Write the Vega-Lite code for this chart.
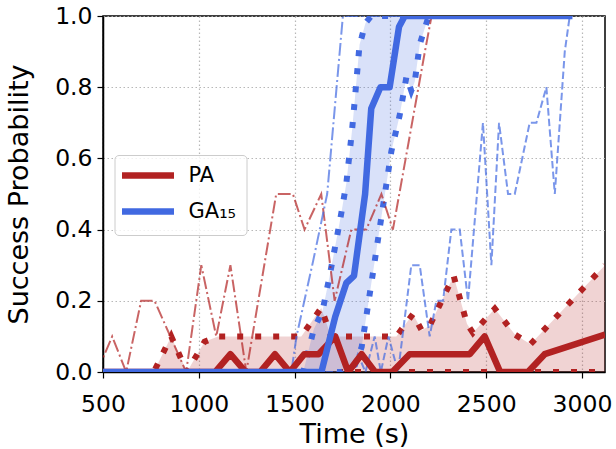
{
  "$schema": "https://vega.github.io/schema/vega-lite/v6.json",
  "width": 502,
  "height": 356,
  "autosize": {"type": "none"},
  "padding": {"left": 103, "top": 16, "right": 11, "bottom": 77},
  "background": "white",
  "config": {
    "font": "DejaVu Sans",
    "view": {"stroke": "black", "strokeWidth": 1.5},
    "axis": {
      "labelFont": "DejaVu Sans",
      "titleFont": "DejaVu Sans",
      "labelFontSize": 23.5,
      "titleFontSize": 27,
      "titleFontWeight": "normal",
      "labelColor": "black",
      "titleColor": "black",
      "tickColor": "black",
      "tickSize": 6,
      "tickWidth": 1.2,
      "domainColor": "black",
      "domainWidth": 1.5,
      "labelPadding": 5,
      "labelFlush": false,
      "grid": true,
      "gridColor": "#b0b0b0",
      "gridDash": [1.5, 2.5],
      "gridWidth": 1.2,
      "gridOpacity": 0.9
    }
  },
  "datasets": {
    "pa_mean": [
      {"series": "PA", "t": 500, "p": 0},
      {"series": "PA", "t": 1085, "p": 0},
      {"series": "PA", "t": 1165, "p": 0.05},
      {"series": "PA", "t": 1245, "p": 0},
      {"series": "PA", "t": 1320, "p": 0},
      {"series": "PA", "t": 1398, "p": 0.05},
      {"series": "PA", "t": 1475, "p": 0},
      {"series": "PA", "t": 1550, "p": 0.05},
      {"series": "PA", "t": 1625, "p": 0.05},
      {"series": "PA", "t": 1712, "p": 0.1},
      {"series": "PA", "t": 1780, "p": 0},
      {"series": "PA", "t": 1850, "p": 0.05},
      {"series": "PA", "t": 1920, "p": 0},
      {"series": "PA", "t": 2010, "p": 0},
      {"series": "PA", "t": 2100, "p": 0.05},
      {"series": "PA", "t": 2414, "p": 0.05},
      {"series": "PA", "t": 2492, "p": 0.1},
      {"series": "PA", "t": 2573, "p": 0},
      {"series": "PA", "t": 2718, "p": 0},
      {"series": "PA", "t": 2805, "p": 0.05},
      {"series": "PA", "t": 3120, "p": 0.105}
    ],
    "pa_band": [
      {"t": 500, "lo": 0, "hi": 0},
      {"t": 765, "lo": 0, "hi": 0},
      {"t": 856, "lo": 0, "hi": 0.1},
      {"t": 938, "lo": 0, "hi": 0},
      {"t": 1030, "lo": 0, "hi": 0.085},
      {"t": 1100, "lo": 0, "hi": 0.1},
      {"t": 1535, "lo": 0, "hi": 0.1},
      {"t": 1639, "lo": 0, "hi": 0.18},
      {"t": 1690, "lo": 0, "hi": 0.1},
      {"t": 2031, "lo": 0, "hi": 0.1},
      {"t": 2118, "lo": 0, "hi": 0.163},
      {"t": 2163, "lo": 0, "hi": 0.117},
      {"t": 2205, "lo": 0, "hi": 0.13},
      {"t": 2330, "lo": 0, "hi": 0.27},
      {"t": 2400, "lo": 0, "hi": 0.135},
      {"t": 2431, "lo": 0, "hi": 0.11},
      {"t": 2545, "lo": 0, "hi": 0.178},
      {"t": 2650, "lo": 0, "hi": 0.105},
      {"t": 2731, "lo": 0, "hi": 0.078},
      {"t": 3120, "lo": 0, "hi": 0.3}
    ],
    "pa_best": [
      {"t": 468, "p": 0},
      {"t": 548, "p": 0.1},
      {"t": 621, "p": 0},
      {"t": 699, "p": 0.2},
      {"t": 769, "p": 0.2},
      {"t": 934, "p": 0},
      {"t": 1013, "p": 0.3},
      {"t": 1091, "p": 0.1},
      {"t": 1165, "p": 0.3},
      {"t": 1248, "p": 0},
      {"t": 1404, "p": 0.5},
      {"t": 1491, "p": 0.5},
      {"t": 1552, "p": 0.4},
      {"t": 1639, "p": 0.5},
      {"t": 1709, "p": 0.2},
      {"t": 1796, "p": 0.4},
      {"t": 1874, "p": 0.4},
      {"t": 1953, "p": 0.5},
      {"t": 2013, "p": 0.4},
      {"t": 2180, "p": 0.9},
      {"t": 2215, "p": 1.0}
    ],
    "ga_mean": [
      {"series": "GA₁₅", "t": 500, "p": 0},
      {"series": "GA₁₅", "t": 1640, "p": 0},
      {"series": "GA₁₅", "t": 1712, "p": 0.155},
      {"series": "GA₁₅", "t": 1770, "p": 0.25},
      {"series": "GA₁₅", "t": 1810, "p": 0.27},
      {"series": "GA₁₅", "t": 1868, "p": 0.5},
      {"series": "GA₁₅", "t": 1900, "p": 0.74},
      {"series": "GA₁₅", "t": 1948, "p": 0.8},
      {"series": "GA₁₅", "t": 1996, "p": 0.8},
      {"series": "GA₁₅", "t": 2025, "p": 0.9},
      {"series": "GA₁₅", "t": 2045, "p": 0.97},
      {"series": "GA₁₅", "t": 2075, "p": 1.0},
      {"series": "GA₁₅", "t": 2950, "p": 1.0}
    ],
    "ga_band": [
      {"t": 500, "lo": 0, "hi": 0},
      {"t": 1545, "lo": 0, "hi": 0},
      {"t": 1600, "lo": 0, "hi": 0.12},
      {"t": 1645, "lo": 0, "hi": 0.17},
      {"t": 1683, "lo": 0, "hi": 0.27},
      {"t": 1735, "lo": 0, "hi": 0.42},
      {"t": 1745, "lo": 0, "hi": 0.45},
      {"t": 1770, "lo": 0.007, "hi": 0.53},
      {"t": 1800, "lo": 0.016, "hi": 0.68},
      {"t": 1815, "lo": 0.02, "hi": 0.77},
      {"t": 1839, "lo": 0.054, "hi": 0.92},
      {"t": 1850, "lo": 0.07, "hi": 0.94},
      {"t": 1870, "lo": 0.141, "hi": 0.98},
      {"t": 1900, "lo": 0.247, "hi": 1.0},
      {"t": 2005, "lo": 0.62, "hi": 1.0},
      {"t": 2048, "lo": 0.72, "hi": 1.0},
      {"t": 2084, "lo": 0.83, "hi": 1.0},
      {"t": 2109, "lo": 0.79, "hi": 1.0},
      {"t": 2127, "lo": 0.815, "hi": 1.0},
      {"t": 2153, "lo": 0.92, "hi": 1.0},
      {"t": 2179, "lo": 0.965, "hi": 1.0},
      {"t": 2200, "lo": 1.0, "hi": 1.0},
      {"t": 2950, "lo": 1.0, "hi": 1.0}
    ],
    "ga_best": [
      {"t": 500, "p": 0},
      {"t": 1483, "p": 0},
      {"t": 1510, "p": 0.1},
      {"t": 1596, "p": 0.31},
      {"t": 1670, "p": 0.5},
      {"t": 1752, "p": 1.0},
      {"t": 2950, "p": 1.0}
    ],
    "ga_worst": [
      {"t": 500, "p": 0},
      {"t": 1790, "p": 0},
      {"t": 1830, "p": 0.05},
      {"t": 1870, "p": 0},
      {"t": 1918, "p": 0.1},
      {"t": 1950, "p": 0},
      {"t": 1990, "p": 0.1},
      {"t": 2040, "p": 0},
      {"t": 2109, "p": 0.3},
      {"t": 2153, "p": 0.3},
      {"t": 2205, "p": 0.1},
      {"t": 2240, "p": 0.2},
      {"t": 2275, "p": 0.2},
      {"t": 2318, "p": 0.4},
      {"t": 2362, "p": 0.4},
      {"t": 2405, "p": 0.2},
      {"t": 2483, "p": 0.7},
      {"t": 2527, "p": 0.3},
      {"t": 2567, "p": 0.7},
      {"t": 2614, "p": 0.5},
      {"t": 2649, "p": 0.5},
      {"t": 2727, "p": 0.7},
      {"t": 2762, "p": 0.7},
      {"t": 2814, "p": 0.8},
      {"t": 2858, "p": 0.5},
      {"t": 2910, "p": 0.9},
      {"t": 2936, "p": 1.0},
      {"t": 2950, "p": 1.0}
    ]
  },
  "encoding": {
    "x": {
      "field": "t",
      "type": "quantitative",
      "title": "Time (s)",
      "scale": {"domain": [500, 3120], "nice": false, "zero": false},
      "axis": {"values": [500, 1000, 1500, 2000, 2500, 3000], "format": "d", "labelPadding": 14, "titlePadding": 6}
    }
  },
  "layer": [
    {
      "data": {"name": "pa_band"},
      "mark": {"type": "area", "color": "#b22222", "opacity": 0.2, "clip": true},
      "encoding": {
        "y": {"field": "hi", "type": "quantitative", "title": "Success Probability",
              "scale": {"domain": [0, 1], "nice": false},
              "axis": {"values": [0, 0.2, 0.4, 0.6, 0.8, 1.0], "format": ".1f", "titlePadding": 21}},
        "y2": {"field": "lo"}
      }
    },
    {
      "data": {"name": "ga_band"},
      "mark": {"type": "area", "color": "#4169e1", "opacity": 0.2, "clip": true},
      "encoding": {"y": {"field": "hi", "type": "quantitative"}, "y2": {"field": "lo"}}
    },
    {
      "data": {"name": "pa_band"},
      "mark": {"type": "line", "color": "#b22222", "strokeWidth": 6, "strokeDash": [6, 12], "strokeCap": "butt", "clip": true},
      "encoding": {"y": {"field": "hi", "type": "quantitative"}}
    },
    {
      "data": {"name": "pa_band"},
      "mark": {"type": "line", "color": "#b22222", "strokeWidth": 6, "strokeDash": [6, 12], "strokeCap": "butt", "clip": true},
      "encoding": {"y": {"field": "lo", "type": "quantitative"}}
    },
    {
      "data": {"name": "ga_band"},
      "mark": {"type": "line", "color": "#4169e1", "strokeWidth": 6, "strokeDash": [6, 12], "strokeCap": "butt", "clip": true},
      "encoding": {"y": {"field": "hi", "type": "quantitative"}}
    },
    {
      "data": {"name": "ga_band"},
      "mark": {"type": "line", "color": "#4169e1", "strokeWidth": 6, "strokeDash": [6, 12], "strokeCap": "butt", "clip": true},
      "encoding": {"y": {"field": "lo", "type": "quantitative"}}
    },
    {
      "data": {"name": "pa_best"},
      "mark": {"type": "line", "color": "#b22222", "opacity": 0.7, "strokeWidth": 2, "strokeDash": [12.8, 3.2, 2, 3.2], "clip": true},
      "encoding": {"y": {"field": "p", "type": "quantitative"}}
    },
    {
      "data": {"name": "ga_best"},
      "mark": {"type": "line", "color": "#4169e1", "opacity": 0.7, "strokeWidth": 2, "strokeDash": [12.8, 3.2, 2, 3.2], "clip": true},
      "encoding": {"y": {"field": "p", "type": "quantitative"}}
    },
    {
      "data": {"name": "ga_worst"},
      "mark": {"type": "line", "color": "#4169e1", "opacity": 0.7, "strokeWidth": 2, "strokeDash": [7.4, 3.2], "clip": true},
      "encoding": {"y": {"field": "p", "type": "quantitative"}}
    },
    {
      "data": {"values": [{}]},
      "mark": {"type": "rule", "color": "black", "strokeWidth": 4.5, "strokeDash": [16, 7]},
      "encoding": {"y": {"datum": 0.9}}
    },
    {
      "data": {"name": "pa_mean"},
      "mark": {"type": "line", "strokeWidth": 6.5, "strokeJoin": "round", "clip": true},
      "encoding": {
        "y": {"field": "p", "type": "quantitative"},
        "color": {
          "field": "series", "type": "nominal",
          "scale": {"domain": ["PA", "GA₁₅"], "range": ["#b22222", "#4169e1"]},
          "legend": {
            "title": null, "orient": "none", "legendX": 11.5, "legendY": 139,
            "direction": "vertical", "symbolType": "M-4,0H4", "symbolSize": 169,
            "symbolOffset": 13, "symbolStrokeWidth": 6.5, "labelFontSize": 21,
            "labelFont": "DejaVu Sans", "labelColor": "black", "rowPadding": 9,
            "padding": 10, "labelOffset": 30,
            "strokeColor": "#cccccc", "fillColor": "rgba(255,255,255,0.8)", "cornerRadius": 4
          }
        }
      }
    },
    {
      "data": {"name": "ga_mean"},
      "mark": {"type": "line", "strokeWidth": 6.5, "strokeJoin": "round", "clip": true},
      "encoding": {
        "y": {"field": "p", "type": "quantitative"},
        "color": {"field": "series", "type": "nominal"}
      }
    }
  ]
}
